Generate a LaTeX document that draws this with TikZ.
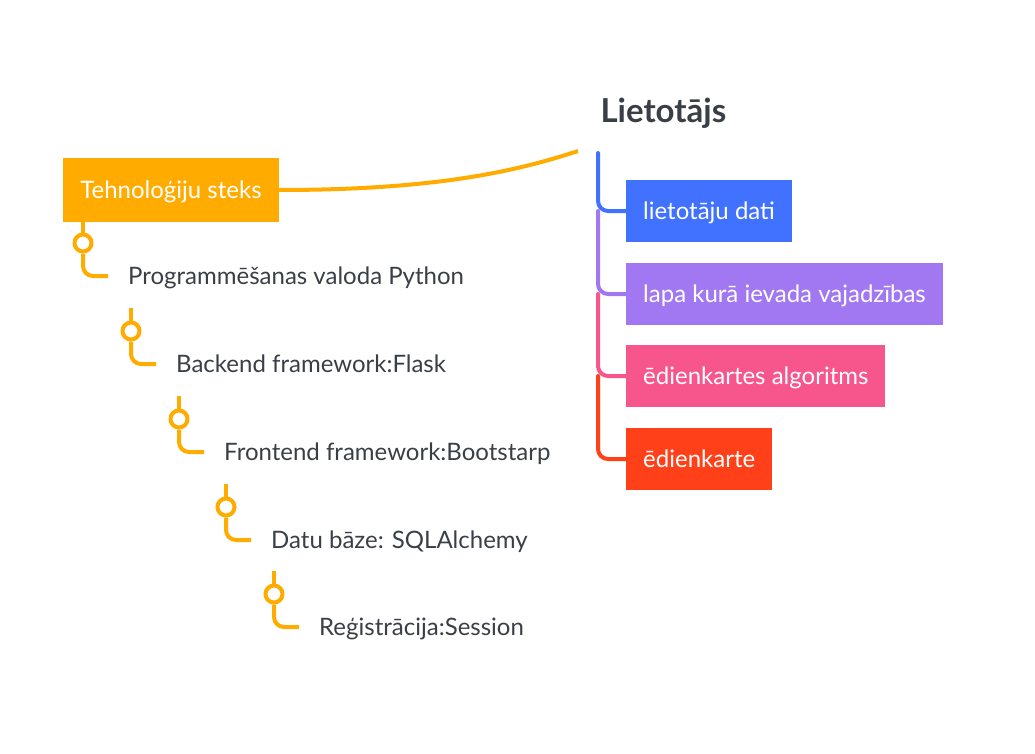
\documentclass[tikz,border=0pt]{standalone}
\usepackage{fontspec}
\setmainfont{Lato}
\definecolor{orn}{HTML}{FFAB00}
\definecolor{bl}{HTML}{4171FF}
\definecolor{pu}{HTML}{A178F2}
\definecolor{pk}{HTML}{F6568C}
\definecolor{rd}{HTML}{FF4018}
\definecolor{tx}{HTML}{3A3F47}
\begin{document}
\begin{tikzpicture}[x=1pt,y=-1pt,
  techbox/.style={fill=orn,text=white,font=\fontsize{24}{28}\selectfont,text depth=0pt,minimum width=216pt,minimum height=63pt,inner sep=0pt},
  rbox/.style={text=white,font=\fontsize{24}{28}\selectfont,text depth=0pt,minimum height=62pt,inner xsep=17pt,anchor=west},
  item/.style={text=tx,font=\fontsize{24}{28}\selectfont,text depth=0pt,anchor=west,inner xsep=20pt,inner ysep=0pt},
  knob/.style={circle,draw=orn,line width=4pt,fill=white,minimum size=17pt,inner sep=0pt},
  oline/.style={draw=orn,line width=4pt,rounded corners=10pt},
  tline/.style={line width=4pt,rounded corners=10pt,line cap=round}]
\useasboundingbox (0,0) rectangle (1035,754);
% root
\node[techbox] (tech) at (171,190) {Tehnoloģiju steks};
\node[text=tx,font=\fontsize{33}{38}\selectfont\bfseries,anchor=west] (user) at (597,113) {Lietotājs};
\coordinate (uend) at (578,151);
\coordinate (trunk) at (598,153);
\draw[orn,line width=4pt] (tech.east) .. controls (440,190) and (520,170) .. (uend);
% left items
\node[knob] (c1) at (83,243) {};
\node[knob] (c2) at (131,331) {};
\node[knob] (c3) at (179,419) {};
\node[knob] (c4) at (226,507) {};
\node[knob] (c5) at (274,594) {};
\node[item] (t1) at (108,276) {Programmēšanas valoda Python};
\node[item] (t2) at (156,364) {Backend framework:Flask};
\node[item] (t3) at (204,452) {Frontend framework:Bootstarp};
\node[item] (t4) at (251,540) {Datu bāze: SQLAlchemy};
\node[item] (t5) at (299,627) {Reģistrācija:Session};
\draw[oline] (tech.south -| c1) -- (c1.north);
\foreach \i in {2,3,4,5}{ \draw[oline] (c\i.north) -- ++(0,-13); }
\foreach \i in {1,2,3,4,5}{ \draw[oline] (c\i.south) |- (t\i.west); }
% right boxes
\node[rbox,fill=bl] (b1) at (626,211) {lietotāju dati};
\node[rbox,fill=pu] (b2) at (626,294) {lapa kurā ievada vajadzības};
\node[rbox,fill=pk] (b3) at (626,376) {ēdienkartes algoritms};
\node[rbox,fill=rd] (b4) at (626,459) {ēdienkarte};
\draw[tline,bl] (trunk) |- (b1.west);
\draw[tline,pu] (b1.west -| trunk) |- (b2.west);
\draw[tline,pk] (b2.west -| trunk) |- (b3.west);
\draw[tline,rd] (b3.west -| trunk) |- (b4.west);
\end{tikzpicture}
\end{document}
